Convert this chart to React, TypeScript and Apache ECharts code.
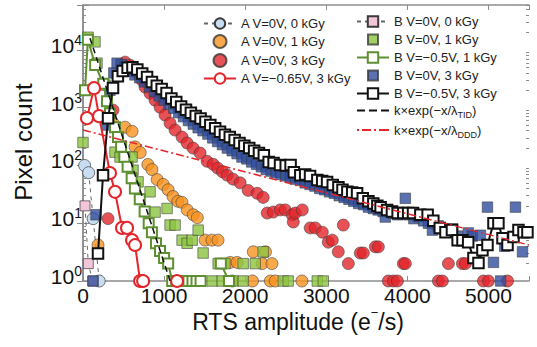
import React, { useEffect, useRef } from 'react';
import * as echarts from 'echarts';

const FONT = '"Liberation Sans", Arial, Helvetica, sans-serif';

// ---------- data (x: RTS amplitude e-/s, y: pixel count) ----------
const A_0V_0kGy: [number, number][] = [[20, 100], [70, 75], [125, 12], [200, 1]];
const A_0V_1kGy: [number, number][] = [
  [185, 4.2], [370, 540], [519, 460], [605, 390], [642, 210], [705, 168], [800, 104], [850, 85],
  [915, 57], [990, 47], [1050, 38], [1110, 29], [1170, 24], [1220, 23], [1285, 17], [1360, 14],
  [1410, 12.5], [1505, 5.1], [1590, 5.1], [1665, 5.1], [1815, 2.1], [1900, 2.1], [2100, 3.2],
  [2210, 2], [2250, 3.2], [2330, 2], [1840, 1], [2090, 1], [2310, 1], [2370, 1], [2700, 1]
];
const A_0V_3kGy: [number, number][] = [
  [309, 12], [370, 910], [519, 6150], [580, 5450], [642, 4150], [728, 3000], [765, 2280], [827, 1780],
  [889, 1350], [951, 1020], [1012, 745], [1074, 540], [1136, 410], [1222, 310], [1284, 245],
  [1358, 200], [1444, 164], [1531, 118], [1605, 105], [1660, 90], [1720, 78], [1778, 68], [1850, 58],
  [1938, 50], [2037, 37], [2148, 33], [2222, 28], [2272, 15], [2346, 15.6], [2432, 17], [2494, 17],
  [2580, 14], [2593, 10.5], [2617, 15], [2704, 17], [2802, 8.3], [2864, 8.3], [2951, 7], [3025, 4.7],
  [3074, 5.1], [3148, 3.2], [3210, 9.3], [3272, 2], [3420, 3.05], [3457, 3.05], [3605, 3.9],
  [3642, 3.9], [3765, 1], [3827, 1], [3877, 1], [3951, 2], [3975, 2], [4383, 1], [4432, 1],
  [4506, 2], [4679, 2], [4716, 2], [4938, 1], [5000, 1], [5235, 1]
];
const A_m065V_3kGy: ([number, number] | [number, string])[] = [
  [49, 660], [136, 2180], [198, 715], [333, 74], [395, 35], [481, 8.3], [543, 8.3], [605, 5.1],
  [642, 4.2], [704, 1], [741, 1], [900, '-'], [1160, 1]
];
const B_0V_0kGy: [number, number][] = [[25, 20], [65, 2], [120, 1]];
const B_0V_1kGy: [number, number][] = [
  [0, 250], [62, 16600], [148, 13800], [173, 5900], [272, 2460], [395, 170], [457, 140], [605, 140],
  [617, 83], [679, 52], [827, 35], [889, 15.6], [1037, 18], [1074, 9.3], [1136, 9.3], [1222, 5.1],
  [1284, 4.5], [1346, 5.1], [1420, 7.6], [1481, 3.05], [1667, 2], [1750, 2], [1975, 2], [2124, 2],
  [2222, 3.2], [1593, 1], [1716, 1], [1852, 1], [1975, 1], [2470, 1], [2530, 1], [2889, 1], [2963, 1]
];
const B_m05V_1kGy: ([number, number] | [number, string])[] = [
  [25, 2000], [60, 15000], [150, 5500], [250, 2600], [296, 1300], [333, 800], [395, 460], [432, 310],
  [470, 210], [510, 140], [550, 95], [600, 60], [640, 40], [700, 26], [760, 16], [810, 10], [850, 7],
  [900, 4.5], [950, 3.3], [1000, 2.5], [1050, 2], [1100, 1], [1150, 1], [1200, 1], [1250, 1],
  [1300, 1], [1350, 1], [1400, 1], [1450, 1], [1600, '-'], [1700, 2], [1800, 1]
];
const B_0V_3kGy: [number, number][] = [
  [125, 1], [160, 14], [296, 500], [333, 2000], [380, 4000], [420, 5900], [470, 5600], [520, 5000],
  [580, 4300], [640, 3700], [700, 3300], [760, 2800], [820, 2300], [880, 1900], [940, 1600],
  [1000, 1350], [1060, 1150], [1120, 980], [1180, 820], [1240, 700], [1300, 600], [1360, 520],
  [1420, 450], [1480, 400], [1540, 350], [1600, 300], [1660, 260], [1720, 230], [1780, 200],
  [1840, 180], [1900, 160], [1960, 140], [2020, 130], [2080, 115], [2140, 105], [2200, 95],
  [2260, 85], [2320, 80], [2380, 75], [2440, 70], [2500, 66], [2560, 62], [2620, 58], [2680, 55],
  [2740, 50], [2800, 47], [2860, 44], [2920, 40], [2980, 38], [3040, 35], [3100, 33], [3160, 30],
  [3220, 28], [3280, 26], [3340, 24], [3400, 22], [3460, 21], [3520, 19], [3580, 18], [3640, 17],
  [3700, 16], [3728, 12.8], [3820, 15], [3880, 14], [3975, 27], [4020, 14], [4080, 12], [4140, 13],
  [4200, 11], [4260, 10], [4309, 7.6], [4380, 9], [4440, 8], [4500, 7], [4560, 8], [4620, 6],
  [4753, 6.8], [4800, 6], [4901, 6.2], [4988, 19], [5062, 2.1], [5150, 1], [5200, 4], [5333, 19],
  [5420, 3.2]
];
const B_m05V_3kGy: [number, number][] = [
  [185, 3], [247, 68], [309, 660], [370, 2200], [430, 3500], [490, 4300], [550, 4900], [610, 5000],
  [670, 4600], [730, 3900], [790, 3400], [850, 2800], [910, 2400], [970, 2100], [1030, 1800],
  [1090, 1450], [1150, 1250], [1210, 1050], [1270, 920], [1330, 820], [1390, 720], [1450, 650],
  [1510, 570], [1570, 500], [1630, 440], [1690, 385], [1750, 340], [1810, 310], [1870, 275],
  [1930, 245], [1990, 220], [2050, 200], [2110, 180], [2170, 165], [2230, 150], [2290, 115],
  [2350, 110], [2430, 102], [2500, 100], [2560, 102], [2600, 76], [2680, 68], [2740, 70],
  [2800, 66], [2890, 56], [2950, 54], [3010, 52], [3080, 46], [3150, 42], [3200, 38], [3260, 35],
  [3320, 34], [3380, 33], [3450, 27], [3520, 24], [3580, 22], [3630, 20], [3670, 19], [3750, 17],
  [3810, 16], [3880, 15], [3950, 15], [4010, 15], [4070, 15], [4160, 14], [4250, 14], [4320, 11],
  [4400, 8.3], [4470, 7], [4550, 7.6], [4620, 5.1], [4680, 5.1], [4750, 4.7], [4815, 2.5],
  [4877, 2.05], [4926, 3.4], [4988, 4.2], [5062, 10], [5123, 10], [5173, 5.5], [5235, 4.2],
  [5309, 5.8], [5370, 7.6], [5432, 7], [5481, 7]
];
const FIT_TID: [number, number][] = [[86, 16000], [1074, 1]];
const FIT_DDD: [number, number][] = [[0, 410], [5500, 4.2]];

const X_MIN = 0;
const X_MAX = 5500;
const X_STEP = 1000;
const Y_MIN = 1;
const Y_MAX = 60000;
const Y_MINOR_TICKS: number[] = [
  2, 3, 4, 5, 6, 7, 8, 9, 20, 30, 40, 50, 60, 70, 80, 90, 200, 300, 400, 500, 600, 700, 800, 900,
  2000, 3000, 4000, 5000, 6000, 7000, 8000, 9000, 20000, 30000, 40000, 50000, 60000
];

const N = {
  a0: 'A V=0V, 0 kGy',
  a1: 'A V=0V, 1 kGy',
  a3: 'A V=0V, 3 kGy',
  am: 'A V=\u22120.65V, 3 kGy',
  b0: 'B V=0V, 0 kGy',
  b1: 'B V=0V, 1 kGy',
  bm1: 'B V=\u22120.5V, 1 kGy',
  b3: 'B V=0V, 3 kGy',
  bm3: 'B V=\u22120.5V, 3 kGy',
  tid: 'k\u00d7exp(\u2212x/\u03bbTID)',
  ddd: 'k\u00d7exp(\u2212x/\u03bbDDD)'
};

const C = {
  lightBlue: '#c8ddf1',
  orange: '#f7921e',
  red: '#e2262c',
  pink: '#f3c5d8',
  green: '#8cc43f',
  greenLine: '#5e8f30',
  blue: '#2f4e9e',
  black: '#111111',
  axis: '#8c8c8c',
  edge: '#3a3a3a'
};

const SQUARE_ICON = 'path://M0,0L0,0Z M1.5,1.5H11.5V11.5H1.5Z M13,13L13,13Z';

function yLabel(v: number): string {
  const l = Math.log10(v);
  const e = Math.round(l);
  if (Math.abs(l - e) > 1e-6) return '';
  return `{b|10}{s|${e}}`;
}

export default function App() {
  const ref = useRef<HTMLDivElement>(null);
  useEffect(() => {
    const chart = echarts.init(ref.current!, null, { renderer: 'svg' });
    const edge = { borderColor: C.edge, borderWidth: 0.7 };
    const scatter = (name: string, data: any[], color: string, symbol: string, size: number, z: number) => ({
      type: 'scatter', name, data, symbol, symbolSize: size, z,
      itemStyle: { color, ...edge }
    });
    const axisLine = { show: true, lineStyle: { color: C.axis, width: 1.5 } };
    const yBase = { type: 'log', logBase: 10, min: Y_MIN, max: Y_MAX, splitLine: { show: false }, axisLine };
    const option: any = {
      animation: false,
      backgroundColor: '#ffffff',
      textStyle: { fontFamily: FONT },
      grid: { left: 83, right: 8, top: 5, bottom: 66, containLabel: false },
      xAxis: [
        {
          type: 'value', min: X_MIN, max: X_MAX, interval: X_STEP, position: 'bottom',
          axisLine, splitLine: { show: false },
          axisTick: { inside: true, length: 5, lineStyle: { color: C.axis } },
          axisLabel: {
            fontSize: 21, color: '#111', margin: 4, fontFamily: FONT,
            formatter: (v: number) => (v % X_STEP === 0 ? String(v) : '')
          }
        },
        {
          type: 'value', min: X_MIN, max: X_MAX, interval: X_STEP, position: 'top',
          axisLine, splitLine: { show: false },
          axisTick: { inside: true, length: 5, lineStyle: { color: C.axis } },
          axisLabel: { show: false }
        }
      ],
      yAxis: [
        {
          ...yBase, position: 'left',
          axisTick: { inside: true, length: 6, lineStyle: { color: C.axis } },
          axisLabel: {
            margin: 1, color: '#111', fontFamily: FONT, formatter: yLabel,
            rich: {
              b: { fontSize: 21, fontFamily: FONT, color: '#111', verticalAlign: 'bottom', lineHeight: 22, padding: [0, 0, 5, 0] },
              s: { fontSize: 14, fontFamily: FONT, color: '#111', verticalAlign: 'bottom', lineHeight: 14, padding: [0, 0, 14, 0] }
            }
          }
        },
        {
          ...yBase, position: 'right',
          axisTick: { inside: true, length: 6, lineStyle: { color: C.axis } },
          axisLabel: { show: false }
        },
        {
          ...yBase, position: 'left', axisLine: { show: false },
          axisTick: { inside: true, length: 3, customValues: Y_MINOR_TICKS, lineStyle: { color: C.axis } },
          axisLabel: { show: false }
        },
        {
          ...yBase, position: 'right', axisLine: { show: false },
          axisTick: { inside: true, length: 3, customValues: Y_MINOR_TICKS, lineStyle: { color: C.axis } },
          axisLabel: { show: false }
        }
      ],
      legend: [
        {
          orient: 'vertical', left: 198, top: 12, itemWidth: 32, itemHeight: 13, itemGap: 4,
          selectedMode: false,
          textStyle: { fontSize: 13, color: '#222', fontFamily: FONT },
          data: [N.a0, N.a1, N.a3, N.am]
        },
        {
          orient: 'vertical', left: 351, top: 10, itemWidth: 32, itemHeight: 13, itemGap: 4,
          selectedMode: false,
          textStyle: {
            fontSize: 13, color: '#222', fontFamily: FONT,
            rich: {
              t: { fontSize: 13, color: '#222', fontFamily: FONT },
              sub: { fontSize: 9, color: '#222', fontFamily: FONT, verticalAlign: 'top', padding: [9, 0, 0, 0] }
            }
          },
          formatter: (name: string) => {
            if (name === N.tid) return '{t|k\u00d7exp(\u2212x/\u03bb}{sub|TID}{t|)}';
            if (name === N.ddd) return '{t|k\u00d7exp(\u2212x/\u03bb}{sub|DDD}{t|)}';
            return name;
          },
          data: [
            N.b0,
            { name: N.b1, icon: SQUARE_ICON },
            N.bm1,
            { name: N.b3, icon: SQUARE_ICON },
            N.bm3,
            { name: N.tid, icon: 'path://M0,0H8V2H0Z M12,0H20V2H12Z M24,0H32V2H24Z' },
            { name: N.ddd, icon: 'path://M0,0H2V2H0Z M5,0H14V2H5Z M17,0H19V2H17Z M22,0H32V2H22Z' }
          ]
        }
      ],
      graphic: [
        {
          type: 'text', x: 23, y: 142, rotation: Math.PI / 2,
          style: { text: 'Pixel count', font: `24px ${FONT}`, fill: '#111', align: 'center', verticalAlign: 'middle' }
        },
        {
          type: 'text', x: 298, y: 320,
          style: {
            text: '{m|RTS amplitude (e}{s|\u2212}{m|/s)}', align: 'center', verticalAlign: 'middle',
            rich: {
              m: { fontSize: 23, fontFamily: FONT, fill: '#111', color: '#111', verticalAlign: 'bottom', lineHeight: 26 },
              s: { fontSize: 13, fontFamily: FONT, fill: '#111', color: '#111', verticalAlign: 'bottom', lineHeight: 13, padding: [0, 0, 14, 0] }
            }
          }
        }
      ],
      series: [
        {
          type: 'line', name: N.a0, data: A_0V_0kGy, symbol: 'circle', symbolSize: 12, showAllSymbol: true, z: 2,
          lineStyle: { color: '#666', width: 1, type: [4, 4] }, itemStyle: { color: C.lightBlue, ...edge }
        },
        scatter(N.a1, A_0V_1kGy, C.orange, 'circle', 12, 3),
        scatter(N.a3, A_0V_3kGy, C.red, 'circle', 12, 4),
        {
          type: 'line', name: N.am, data: A_m065V_3kGy, symbol: 'emptyCircle', symbolSize: 12, showAllSymbol: true, z: 7,
          connectNulls: false,
          lineStyle: { color: C.red, width: 2 }, itemStyle: { color: C.red, borderColor: C.red, borderWidth: 2 }
        },
        {
          type: 'line', name: N.b0, data: B_0V_0kGy, symbol: 'rect', symbolSize: 10, showAllSymbol: true, z: 2,
          lineStyle: { color: '#666', width: 1, type: [4, 4] }, itemStyle: { color: C.pink, ...edge }
        },
        scatter(N.b1, B_0V_1kGy, C.green, 'rect', 10.5, 5),
        {
          type: 'line', name: N.bm1, data: B_m05V_1kGy, symbol: 'emptyRect', symbolSize: 10, showAllSymbol: true, z: 6,
          connectNulls: false,
          lineStyle: { color: C.greenLine, width: 2 }, itemStyle: { color: C.greenLine, borderColor: C.greenLine, borderWidth: 2 }
        },
        scatter(N.b3, B_0V_3kGy, C.blue, 'rect', 10.5, 5),
        {
          type: 'line', name: N.bm3, data: B_m05V_3kGy, symbol: 'emptyRect', symbolSize: 10.5, showAllSymbol: true, z: 8,
          lineStyle: { color: C.black, width: 2 }, itemStyle: { color: C.black, borderColor: C.black, borderWidth: 2 }
        },
        {
          type: 'line', name: N.tid, data: FIT_TID, symbol: 'none', z: 9,
          lineStyle: { color: C.black, width: 1.5, type: [6, 4] }, itemStyle: { color: C.black }
        },
        {
          type: 'line', name: N.ddd, data: FIT_DDD, symbol: 'none', z: 9,
          lineStyle: { color: C.red, width: 1.5, type: [8, 3, 2, 3] }, itemStyle: { color: C.red }
        }
      ]
    };
    chart.setOption(option);
    return () => chart.dispose();
  }, []);
  return (
    <div
      ref={ref}
      style={{ position: 'fixed', left: 0, top: 0, width: 537, height: 347, background: '#fff' }}
    />
  );
}
